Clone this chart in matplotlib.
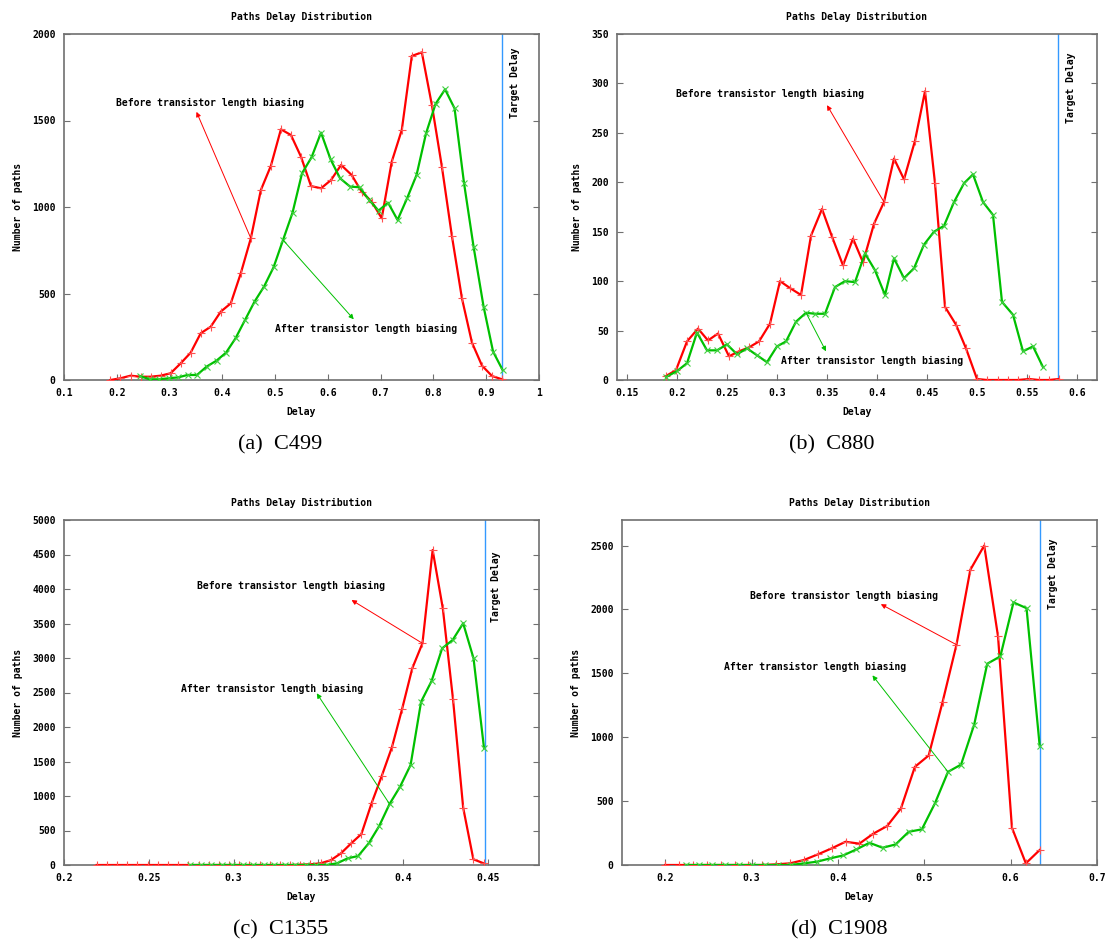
import matplotlib
matplotlib.use("Agg")
import matplotlib.pyplot as plt

# ---------------- data ----------------
# C499
c499_before_x = [0.188, 0.207, 0.226, 0.245, 0.264, 0.283, 0.302, 0.321, 0.340, 0.359,
                 0.378, 0.397, 0.416, 0.435, 0.454, 0.473, 0.492, 0.511, 0.530, 0.549,
                 0.568, 0.587, 0.606, 0.625, 0.645, 0.664, 0.683, 0.702, 0.721, 0.740,
                 0.759, 0.778, 0.797, 0.816, 0.835, 0.854, 0.873, 0.892, 0.911, 0.930]
c499_before_y = [0, 10, 25, 19, 19, 25, 39, 96, 158, 270,
                 308, 395, 443, 617, 819, 1098, 1238, 1449, 1416, 1291,
                 1121, 1108, 1156, 1243, 1185, 1088, 1031, 935, 1262, 1445,
                 1873, 1894, 1590, 1233, 832, 472, 216, 83, 23, 4]
c499_after_x = [0.244, 0.262, 0.280, 0.298, 0.316, 0.334, 0.352, 0.370, 0.389, 0.407,
                0.425, 0.443, 0.461, 0.479, 0.497, 0.515, 0.533, 0.551, 0.569, 0.587,
                0.605, 0.623, 0.642, 0.660, 0.678, 0.696, 0.714, 0.732, 0.750, 0.768,
                0.786, 0.804, 0.822, 0.840, 0.858, 0.876, 0.895, 0.913, 0.931]
c499_after_y = [23, 4, 4, 10, 15, 29, 29, 77, 112, 158,
                241, 347, 453, 540, 651, 809, 967, 1195, 1287, 1430,
                1276, 1166, 1118, 1114, 1041, 979, 1025, 925, 1050, 1185,
                1426, 1596, 1680, 1570, 1137, 771, 424, 164, 58]

# C880
c880_before_x = [0.189, 0.199, 0.210, 0.221, 0.231, 0.241, 0.252, 0.262, 0.272, 0.282,
                 0.293, 0.303, 0.313, 0.324, 0.334, 0.345, 0.355, 0.366, 0.376, 0.386,
                 0.397, 0.407, 0.417, 0.427, 0.438, 0.448, 0.458, 0.468, 0.479, 0.489,
                 0.500, 0.510, 0.521, 0.531, 0.541, 0.552, 0.562, 0.572, 0.582]
c880_before_y = [4, 10, 39, 52, 40, 47, 24, 29, 33, 39,
                 57, 100, 93, 86, 146, 173, 145, 116, 143, 119,
                 158, 180, 224, 203, 242, 292, 199, 74, 56, 32,
                 1, 0, 0, 0, 0, 1, 0, 0, 1]
c880_after_x = [0.189, 0.200, 0.210, 0.220, 0.230, 0.240, 0.250, 0.260, 0.270, 0.280,
                0.290, 0.300, 0.309, 0.319, 0.329, 0.338, 0.348, 0.358, 0.368, 0.378,
                0.388, 0.398, 0.408, 0.417, 0.427, 0.437, 0.447, 0.457, 0.467, 0.477,
                0.487, 0.496, 0.506, 0.516, 0.525, 0.536, 0.546, 0.556, 0.566]
c880_after_y = [3, 9, 17, 48, 30, 30, 36, 26, 32, 25,
                18, 34, 39, 59, 68, 67, 67, 94, 100, 99,
                128, 111, 86, 123, 103, 113, 137, 150, 156, 180,
                199, 208, 180, 167, 79, 66, 29, 34, 13]

# C1355
c1355_before_x = [0.2193, 0.2253, 0.2313, 0.2373, 0.2433, 0.2493, 0.2553, 0.2613, 0.2673, 0.2733,
                  0.2793, 0.2853, 0.2913, 0.2973, 0.3033, 0.3093, 0.3153, 0.3213, 0.3273, 0.3333,
                  0.3393, 0.3453, 0.3513, 0.3573, 0.3633, 0.3693, 0.3753, 0.3813, 0.3873, 0.3933,
                  0.3993, 0.4053, 0.4113, 0.4173, 0.4233, 0.4293, 0.4353, 0.4413, 0.4473]
c1355_before_y = [0, 0, 0, 0, 0, 0, 0, 0, 0, 0,
                  0, 0, 0, 0, 0, 0, 0, 0, 0, 0,
                  5, 10, 25, 70, 170, 314, 449, 894, 1290, 1706,
                  2261, 2851, 3213, 4565, 3720, 2406, 831, 83, 25]
c1355_after_x = [0.2744, 0.2806, 0.2868, 0.2930, 0.2991, 0.3053, 0.3115, 0.3177, 0.3239, 0.3301,
                 0.3363, 0.3424, 0.3486, 0.3548, 0.3610, 0.3672, 0.3734, 0.3796, 0.3858, 0.3919,
                 0.3981, 0.4043, 0.4105, 0.4167, 0.4229, 0.4291, 0.4353, 0.4414, 0.4476]
c1355_after_y = [0, 0, 0, 0, 0, 0, 0, 0, 0, 0,
                 0, 0, 0, 0, 25, 97, 130, 314, 565, 884,
                 1135, 1449, 2367, 2667, 3140, 3261, 3503, 2996, 1691]

# C1908
c1908_before_x = [0.2000, 0.2161, 0.2321, 0.2482, 0.2642, 0.2803, 0.2964, 0.3124, 0.3285, 0.3445,
                  0.3606, 0.3767, 0.3927, 0.4088, 0.4248, 0.4409, 0.4570, 0.4730, 0.4891, 0.5051,
                  0.5212, 0.5373, 0.5533, 0.5694, 0.5854, 0.6015, 0.6176, 0.6336]
c1908_before_y = [0, 0, 0, 0, 0, 0, 0, 0, 5, 13,
                  39, 83, 130, 182, 167, 245, 305, 443, 768, 857,
                  1276, 1724, 2310, 2500, 1789, 292, 13, 117]
c1908_after_x = [0.2243, 0.2395, 0.2546, 0.2698, 0.2850, 0.3001, 0.3153, 0.3304, 0.3456, 0.3607,
                 0.3759, 0.3911, 0.4062, 0.4214, 0.4365, 0.4517, 0.4668, 0.4820, 0.4972, 0.5123,
                 0.5275, 0.5426, 0.5578, 0.5729, 0.5881, 0.6033, 0.6184, 0.6336]
c1908_after_y = [0, 0, 0, 0, 0, 0, 0, 0, 0, 13,
                 26, 52, 75, 122, 174, 135, 161, 260, 279, 482,
                 729, 786, 1099, 1575, 1633, 2055, 2010, 935]

target_delays = {"C499": 0.930, "C880": 0.581, "C1355": 0.448, "C1908": 0.6335}

x_ticks = {
    "C499": [0.1, 0.2, 0.3, 0.4, 0.5, 0.6, 0.7, 0.8, 0.9, 1.0],
    "C880": [0.15, 0.2, 0.25, 0.3, 0.35, 0.4, 0.45, 0.5, 0.55, 0.6],
    "C1355": [0.2, 0.25, 0.3, 0.35, 0.4, 0.45],
    "C1908": [0.2, 0.3, 0.4, 0.5, 0.6, 0.7],
}
x_tick_labels = {
    "C499": ["0.1", "0.2", "0.3", "0.4", "0.5", "0.6", "0.7", "0.8", "0.9", "1"],
    "C880": ["0.15", "0.2", "0.25", "0.3", "0.35", "0.4", "0.45", "0.5", "0.55", "0.6"],
    "C1355": ["0.2", "0.25", "0.3", "0.35", "0.4", "0.45"],
    "C1908": ["0.2", "0.3", "0.4", "0.5", "0.6", "0.7"],
}
y_ticks = {
    "C499": [0, 500, 1000, 1500, 2000],
    "C880": [0, 50, 100, 150, 200, 250, 300, 350],
    "C1355": [0, 500, 1000, 1500, 2000, 2500, 3000, 3500, 4000, 4500, 5000],
    "C1908": [0, 500, 1000, 1500, 2000, 2500],
}

series = {
    "C499": (c499_before_x, c499_before_y, c499_after_x, c499_after_y),
    "C880": (c880_before_x, c880_before_y, c880_after_x, c880_after_y),
    "C1355": (c1355_before_x, c1355_before_y, c1355_after_x, c1355_after_y),
    "C1908": (c1908_before_x, c1908_before_y, c1908_after_x, c1908_after_y),
}

before_label = "Before transistor length biasing"
after_label = "After transistor length biasing"
captions = {"C499": "(a)  C499", "C880": "(b)  C880", "C1355": "(c)  C1355", "C1908": "(d)  C1908"}

# ---------------- layout ----------------
W, H = 1110, 943
# axes boxes in pixels: left, top, right, bottom
layout = {
    "C499": dict(box=(64, 34, 539, 380), xlim=(0.1, 1.0), ylim=(0, 2000),
                 before_text=(0.1985, 1601), before_arrow=((0.454, 819), (0.351, 1550)),
                 after_text=(0.4998, 295), after_arrow=((0.515, 809), (0.649, 351)),
                 target_off=(9, -10), caption_xy=(280, 445)),
    "C880": dict(box=(617, 34, 1097, 380), xlim=(0.14, 0.62), ylim=(0, 350),
                 before_text=(0.199, 289), before_arrow=((0.407, 180), (0.35, 278)),
                 after_text=(0.3043, 19.2), after_arrow=((0.329, 68), (0.349, 29)),
                 target_off=(9, -13), caption_xy=(832, 445)),
    "C1355": dict(box=(64, 520, 539, 865), xlim=(0.2, 0.48), ylim=(0, 5000),
                  before_text=(0.2785, 4043), before_arrow=((0.4113, 3213), (0.3695, 3840)),
                  after_text=(0.2691, 2551), after_arrow=((0.3919, 884), (0.349, 2488)),
                  target_off=(8, -23), caption_xy=(281, 930)),
    "C1908": dict(box=(622, 520, 1097, 865), xlim=(0.15, 0.7), ylim=(0, 2700),
                  before_text=(0.2983, 2105), before_arrow=((0.5373, 1724), (0.4497, 2041)),
                  after_text=(0.2686, 1550), after_arrow=((0.5275, 729), (0.440, 1484)),
                  target_off=(10, -13), caption_xy=(839, 930)),
}

MONO = "DejaVu Sans Mono"
FS = 7.0
RED = "#ff0000"
GREEN = "#00c000"
BLUE = "#3399ff"
FRAME = "#707070"

fig = plt.figure(figsize=(W / 100, H / 100), dpi=100)
fig.patch.set_facecolor("white")

for name, lay in layout.items():
    l, t, r, b = lay["box"]
    ax = fig.add_axes([l / W, 1 - b / H, (r - l) / W, (b - t) / H])
    bx, by, ax_x, ax_y = series[name]

    ax.plot(bx, by, color=RED, lw=1.6, marker="+", ms=5.5, mew=0.8,
            mec="#ff5050", zorder=3)
    ax.plot(ax_x, ax_y, color=GREEN, lw=1.6, marker="x", ms=4.5, mew=0.8,
            mec="#40d040", zorder=4)

    ax.axvline(target_delays[name], color=BLUE, lw=1.0, zorder=2)
    ax.annotate("Target Delay", xy=(target_delays[name], 1.0),
                xycoords=ax.get_xaxis_transform(), xytext=lay["target_off"],
                textcoords="offset points", rotation=90, ha="center", va="top",
                fontsize=FS, family=MONO, fontweight="bold")

    ax.text(*lay["before_text"], before_label, fontsize=FS, family=MONO,
            fontweight="bold", ha="left", va="center", zorder=6)
    ax.text(*lay["after_text"], after_label, fontsize=FS, family=MONO,
            fontweight="bold", ha="left", va="center", zorder=6)
    (s0, e0) = lay["before_arrow"]
    ax.annotate("", xy=e0, xytext=s0,
                arrowprops=dict(arrowstyle="-|>", color=RED, lw=0.7,
                                mutation_scale=7, shrinkA=0, shrinkB=0), zorder=5)
    (s1, e1) = lay["after_arrow"]
    ax.annotate("", xy=e1, xytext=s1,
                arrowprops=dict(arrowstyle="-|>", color=GREEN, lw=0.7,
                                mutation_scale=7, shrinkA=0, shrinkB=0), zorder=5)

    ax.set_xlim(*lay["xlim"])
    ax.set_ylim(*lay["ylim"])
    ax.set_xticks(x_ticks[name])
    ax.set_xticklabels(x_tick_labels[name])
    ax.set_yticks(y_ticks[name])
    ax.set_yticklabels([str(v) for v in y_ticks[name]])
    ax.tick_params(direction="in", length=4, width=0.8, color=FRAME,
                   labelsize=FS, right=True, top=False, pad=6)
    for lab in ax.get_xticklabels() + ax.get_yticklabels():
        lab.set_family(MONO)
        lab.set_fontweight("bold")
    for sp in ax.spines.values():
        sp.set_color(FRAME)
        sp.set_linewidth(1.2)

    ax.set_title("Paths Delay Distribution", fontsize=FS, family=MONO,
                 fontweight="bold", pad=9.8)
    ax.set_xlabel("Delay", fontsize=FS, family=MONO, fontweight="bold", labelpad=6)
    ax.set_ylabel("Number of paths", fontsize=FS, family=MONO, fontweight="bold",
                  labelpad=6.5)

    cx, cy = lay["caption_xy"]
    fig.text(cx / W, 1 - cy / H, captions[name], fontsize=16,
             family="Liberation Serif", ha="center", va="center")

fig.savefig("out.png", dpi=100, facecolor="white")
